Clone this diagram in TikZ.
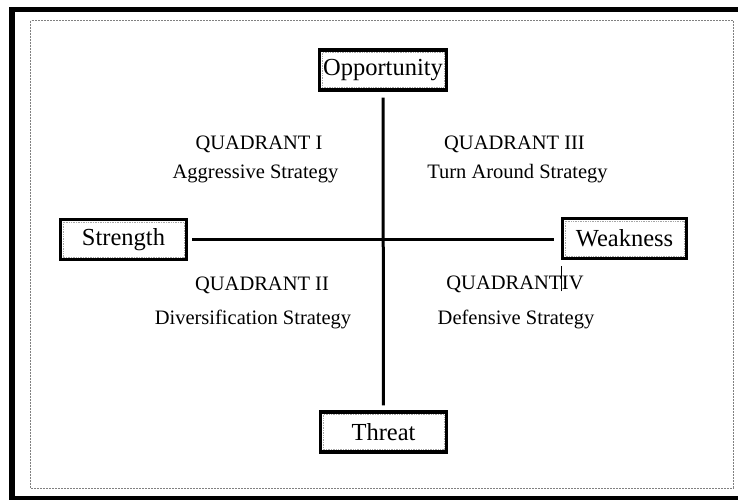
\documentclass[tikz,border=0pt]{standalone}
\usepackage{fontspec}
\setmainfont{Liberation Serif}
\begin{document}
\begin{tikzpicture}[x=1pt,y=-1pt,
  labelbox/.style={draw=black,line width=3.2pt,fill=white,inner sep=0pt,
    minimum width=#1,minimum height=40pt,font=\fontsize{24.5}{28}\selectfont,
    path picture={\draw[gray!70,densely dotted,line width=0.7pt]
      ([shift={(2.6pt,2.6pt)}]path picture bounding box.south west) rectangle
      ([shift={(-2.6pt,-2.6pt)}]path picture bounding box.north east);}},
  labelbox/.default=127pt,
  quadtext/.style={anchor=base,inner sep=0pt,font=\fontsize{20.5}{24}\selectfont},
  axis/.style={line width=3pt,black}]
\useasboundingbox (0,0) rectangle (738,499);
% white page
\fill[white] (0,0) rectangle (738,499);
% outer frame: left, top and bottom rules
\draw[line width=5.5pt,line join=miter] (12,496.75) -- (12,9.5) -- (738,9.5);
\draw[line width=5.5pt] (9.25,499) -- (738,499);
% dashed inner margin
\draw[gray,line width=0.8pt,dash pattern=on 2pt off 1pt] (30.5,20.5) rectangle (733,488);
% end boxes of the two axes
\node[labelbox] (opp) at (383,70) {Opportunity};
\node[labelbox=126pt] (thr) at (383.5,432) {Threat};
\node[labelbox=126pt] (str) at (123.5,239.5) {Strength};
\node[labelbox=124pt] (weak) at (624.5,238.5) {Weakness};
% axes
\draw[axis,shorten <=6pt,shorten >=5pt] (opp.south) -- (thr.north);
\draw[axis,shorten <=4pt,shorten >=7pt] (str.east) -- (str.east -| weak.west);
% quadrant captions
\node[quadtext] (q1) at (259,149) {QUADRANT I};
\node[quadtext] (s1) at (255.5,178) {Aggressive Strategy};
\node[quadtext] (q3) at (514.5,149) {QUADRANT III};
\node[quadtext] (s3) at (517.5,178) {Turn Around Strategy};
\node[quadtext] (q2) at (262,290) {QUADRANT II};
\node[quadtext] (s2) at (253,324) {Diversification Strategy};
\node[quadtext] (q4) at (515,289) {QUADRANT\rule[-0.25ex]{0.5pt}{2.7ex}IV};
\node[quadtext] (s4) at (516,324) {Defensive Strategy};
\end{tikzpicture}
\end{document}
